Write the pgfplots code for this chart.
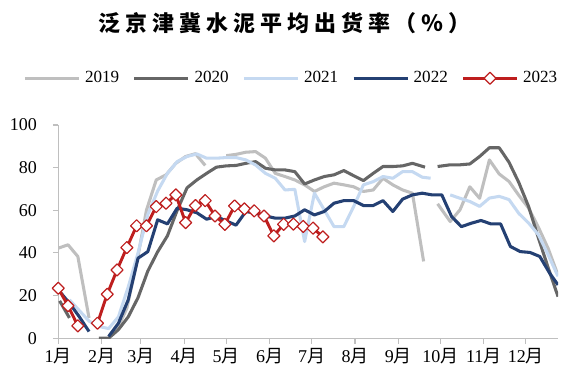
\documentclass[border=0pt]{standalone}
\usepackage{pgfplots}
\pgfplotsset{compat=1.18}
\usepackage{fontspec}
\setmainfont{Liberation Serif}
\newfontfamily\cjk{Noto Sans CJK SC}
\definecolor{c2019}{RGB}{191,191,191}
\definecolor{c2020}{RGB}{102,102,102}
\definecolor{c2021}{RGB}{197,217,241}
\definecolor{c2022}{RGB}{36,64,115}
\definecolor{c2023}{RGB}{190,30,30}
\definecolor{axgray}{RGB}{191,191,191}
\newcommand{\yue}{{\cjk 月}}
\newcommand{\tg}{\hspace{3.7pt}}
\begin{document}
\begin{tikzpicture}
\useasboundingbox (-43.7pt,-26pt) rectangle (381pt,253.75pt);
\begin{axis}[
  at={(0,0)}, anchor=south west,
  scale only axis, width=375pt, height=160pt,
  xmin=0, xmax=357, ymin=0, ymax=100,
  axis x line*=bottom, axis y line*=left,
  axis line style={draw=axgray, line width=0.9pt},
  xtick={0,31,59,90,120,151,181,212,243,273,304,334},
  xticklabels={1\yue,2\yue,3\yue,4\yue,5\yue,6\yue,7\yue,8\yue,9\yue,10\yue,11\yue,12\yue},
  ytick={0,20,40,60,80,100},
  tick align=outside, major tick length=4pt,
  tick style={draw=axgray, line width=0.9pt},
  ticklabel style={font=\fontsize{13.5}{16}\selectfont},
  yticklabel style={xshift=-8.5pt},
  /pgf/number format/assume math mode=true,
  unbounded coords=jump,
  every axis plot/.append style={line width=2.3pt, line join=round},
  legend columns=5,
  legend style={draw=none, fill=none, at={(0.469,1.219)}, anchor=center,
    font=\fontsize{12.8}{15}\selectfont,
    /tikz/every even column/.append style={column sep=6.8pt},
    nodes={inner xsep=3.5pt}},
  legend image code/.code={\draw[mark repeat=2,mark phase=2,#1] plot coordinates {(0pt,0pt) (20.25pt,0pt) (40.5pt,0pt)};},
]
% 2019
\addplot[c2019, no markers] coordinates {
(0,42.2) (7,43.8) (14,38.3) (22,9.5) (30,nan)
(42,4) (49,14) (56,35) (63,60) (70,74.2) (77,76.6) (84,82) (91,85.2) (98,86.5) (105,81) (112,nan)
(120,85.6) (127,86.2) (134,87.2) (141,87.5) (148,84.4) (155,77.3) (162,75.8) (169,74.2) (176,71.9)
(183,68.8) (190,71) (197,72.7) (204,71.9) (211,71) (218,68.8) (225,69.5) (232,75) (239,71.9)
(246,69.5) (253,68) (261,36) (266,nan)
(271,63) (280,54.7) (287,60.2) (294,71) (301,65.6) (308,83.6) (315,77) (322,73.5) (329,67)
(336,61) (343,52) (350,42) (357,29.5)
};
% 2020
\addplot[c2020, no markers] coordinates {
(1,17.5) (8,9.5) (18,nan)
(29,0) (36,0) (43,4) (50,10) (57,19) (64,31.5) (71,40.5) (78,48) (85,60) (92,70.5) (99,74.2)
(106,77.3) (113,80.2) (120,80.8) (127,81) (134,82) (141,82.8) (148,79.7) (155,78.9) (162,78.9)
(169,78.1) (176,72.3) (183,74.2) (190,75.8) (197,76.6) (204,78.6) (211,76.2) (218,73.9) (225,77.3)
(232,80.5) (239,80.5) (246,80.8) (253,82) (262,80.2) (266,nan)
(271,80.5) (280,81.3) (287,81.3) (294,81.7) (301,85.2) (308,89.3) (315,89.3) (322,82.5) (329,73)
(336,61.7) (343,47) (350,33) (357,19.5)
};
% 2021
\addplot[c2021, no markers] coordinates {
(8,18) (15,13) (22,8) (29,5.5) (36,4.5) (43,10) (50,24) (57,40) (64,58) (71,69) (78,77.3)
(85,82.8) (92,85.2) (99,86.4) (106,84.4) (113,84.4) (120,84.7) (127,84.7) (134,83.6) (141,81.2)
(148,77.3) (155,75) (162,69.5) (169,69.8) (176,45.3) (183,68) (190,60.2) (197,52.3) (204,52.3)
(211,61.7) (218,71.9) (225,73.4) (232,75.8) (239,75) (246,78.1) (253,78.1) (260,75.5) (266,75) (273,nan)
(280,67.2) (287,65.6) (294,64.1) (301,61.8) (308,65.7) (315,66.5) (322,65) (329,58.5) (336,54)
(343,48.5) (350,39) (357,29)
};
% 2022
\addplot[c2022, no markers] coordinates {
(1,21.9) (8,16.4) (15,10.1) (22,3.1) (29,nan)
(36,0.8) (43,7) (50,18) (57,37.5) (64,40.6) (71,55.5) (78,53.6) (85,61) (92,60.2) (99,58.8)
(106,55.8) (113,57) (120,55) (127,53) (134,59.4) (141,58.6) (148,57.3) (155,56.3) (162,56.3)
(169,57.3) (176,60.2) (183,57.8) (190,59.4) (197,63.3) (204,64.5) (211,64.5) (218,62.2) (225,62.2)
(232,64.5) (239,59.4) (246,65.2) (253,67.2) (260,68) (267,67.2) (274,67.2) (281,57) (288,52.3)
(295,53.9) (302,55.2) (309,53.6) (316,53.6) (323,43) (330,40.6) (337,40.2) (344,38.3) (351,30.5)
(357,25)
};
% 2023
\addplot[c2023, line width=2.2pt, mark=square*, mark size=3.2pt,
  mark options={rotate=45, fill=white, draw=c2023, line width=0.9pt, solid}] coordinates {
(0,23.4) (7,15.2) (14,5.8) (21,nan) (28,7) (35,20.6) (42,32) (49,42.5) (56,52.7) (63,52.7)
(70,61.7) (77,63.3) (84,67.2) (91,54.2) (98,62.2) (105,64.5) (112,57.3) (119,53.4) (126,62)
(133,60.6) (140,59.7) (147,57.3) (154,48) (161,53.4) (168,53.5) (175,52.4) (182,51.6) (189,47.5)
};
\legend{2019,2020,2021,2022,2023}
\end{axis}
\node[font=\cjk\bfseries\fontsize{16.5}{19}\selectfont, anchor=center] at (170pt,236.3pt)
  {泛\tg 京\tg 津\tg 冀\tg 水\tg 泥\tg 平\tg 均\tg 出\tg 货\tg 率\tg （\tg ％\tg ）};
\end{tikzpicture}
\end{document}
